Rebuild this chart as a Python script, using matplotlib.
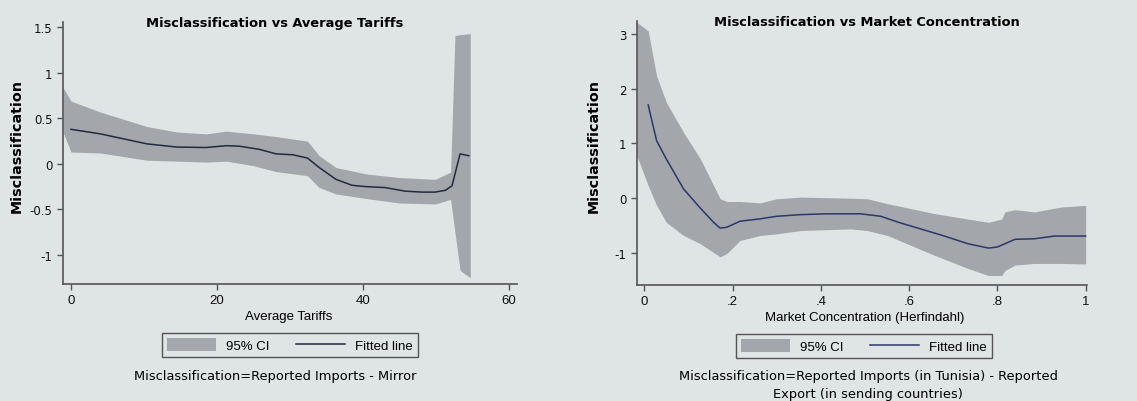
import matplotlib
matplotlib.use("Agg")
import matplotlib.pyplot as plt
from matplotlib.patches import Patch
from matplotlib.lines import Line2D

# left panel: misclassification vs average tariffs
tar_x = [0, 4, 10.4, 14.5, 18.5, 21.3, 23, 25.8, 28.1, 30.4, 32.4, 34, 36.3, 38.5,
         40.4, 43, 45.8, 48.1, 49.9, 51.3, 52.2, 53.3, 54.5]
tar_fit = [0.38, 0.33, 0.22, 0.185, 0.18, 0.2, 0.195, 0.16, 0.11, 0.10, 0.064, -0.04,
           -0.17, -0.235, -0.25, -0.26, -0.30, -0.31, -0.31, -0.29, -0.24, 0.11, 0.09]
tar_ci_x = [-1.1, 0, 4, 10.4, 14.5, 18.5, 21.3, 25, 28.1, 32.4, 34, 36.3, 40.4, 45,
            49.9, 52.0, 52.6, 53.3, 54.5, 54.7]
tar_hi = [0.84, 0.69, 0.57, 0.41, 0.35, 0.33, 0.36, 0.33, 0.30, 0.25, 0.09, -0.04,
          -0.11, -0.15, -0.17, -0.09, 1.41, 1.42, 1.43, 1.43]
tar_lo = [0.35, 0.13, 0.12, 0.04, 0.03, 0.02, 0.03, -0.02, -0.085, -0.13, -0.26, -0.33,
          -0.38, -0.43, -0.44, -0.39, -0.75, -1.17, -1.24, -1.25]

# right panel: misclassification vs market concentration
hhi_x = [0.009, 0.028, 0.05, 0.089, 0.127, 0.157, 0.172, 0.187, 0.217, 0.263, 0.30,
         0.354, 0.414, 0.49, 0.536, 0.58, 0.626, 0.68, 0.733, 0.78, 0.80, 0.84, 0.884,
         0.93, 1.0]
hhi_fit = [1.70, 1.05, 0.715, 0.17, -0.18, -0.44, -0.545, -0.53, -0.42, -0.376, -0.33,
           -0.30, -0.285, -0.285, -0.33, -0.45, -0.56, -0.69, -0.83, -0.91, -0.89,
           -0.75, -0.74, -0.69, -0.69]
hhi_ci_x = [-0.017, 0.009, 0.028, 0.05, 0.089, 0.127, 0.172, 0.187, 0.217, 0.263, 0.30,
            0.354, 0.468, 0.505, 0.551, 0.604, 0.657, 0.733, 0.78, 0.81, 0.817, 0.84,
            0.884, 0.945, 1.0]
hhi_hi = [3.21, 3.05, 2.23, 1.75, 1.2, 0.72, -0.01, -0.06, -0.06, -0.085, -0.01, 0.02,
          0.0, -0.01, -0.1, -0.19, -0.28, -0.38, -0.44, -0.38, -0.25, -0.21, -0.25,
          -0.16, -0.13]
hhi_lo = [0.78, 0.23, -0.13, -0.44, -0.68, -0.83, -1.07, -1.01, -0.77, -0.68, -0.65,
          -0.59, -0.56, -0.59, -0.68, -0.86, -1.04, -1.28, -1.41, -1.41, -1.32, -1.22,
          -1.19, -1.19, -1.2]

bg = "#dfe4e4"
band = "#a3a7ab"
axcol = "#555555"

fig = plt.figure(figsize=(11.37, 4.02), dpi=100, facecolor=bg)


def panel(rect, cx, hi, lo, x, fit, xlim, ylim, xticks, xlabels, yticks, ylabels,
          linecol):
    ax = fig.add_axes(rect)
    ax.set_facecolor(bg)
    ax.fill_between(cx, lo, hi, color=band, lw=0)
    ax.plot(x, fit, color=linecol, lw=1.1)
    ax.set_xlim(*xlim)
    ax.set_ylim(*ylim)
    for s in ["top", "right"]:
        ax.spines[s].set_visible(False)
    for s in ["left", "bottom"]:
        ax.spines[s].set_color(axcol)
        ax.spines[s].set_linewidth(1.2)
    ax.set_xticks(xticks)
    ax.set_xticklabels(xlabels, family="Liberation Sans", fontsize=9.5)
    ax.set_yticks(yticks)
    ax.set_yticklabels(ylabels, fontsize=8.5)
    ax.tick_params(colors=axcol, labelcolor="#111111", length=4, width=1)
    return ax


ax1 = panel([0.0554, 0.291, 0.3993, 0.652], tar_ci_x, tar_hi, tar_lo, tar_x, tar_fit,
            (-1.1, 61.1), (-1.32, 1.56), [0, 20, 40, 60], ["0", "20", "40", "60"],
            [1.5, 1, 0.5, 0, -0.5, -1], ["1.5", "1", "0.5", "0", "-0.5", "-1"],
            "#222a40")
ax2 = panel([0.560, 0.289, 0.396, 0.656], hhi_ci_x, hhi_hi, hhi_lo, hhi_x, hhi_fit,
            (-0.017, 1.003), (-1.58, 3.23), [0, 0.2, 0.4, 0.6, 0.8, 1],
            ["0", ".2", ".4", ".6", ".8", "1"],
            [3, 2, 1, 0, -1], ["3", "2", "1", "0", "-1"], "#2b3768")

W, H = 1137, 402


def fx(px):
    return px / W


def fy(py):
    return 1 - py / H


# titles and axis labels
fig.text(fx(275), fy(23), "Misclassification vs Average Tariffs", ha="center",
         va="center", fontsize=9.4, fontweight="bold")
fig.text(fx(867), fy(23), "Misclassification vs Market Concentration", ha="center",
         va="center", fontsize=9.4, fontweight="bold")
fig.text(fx(17), fy(146), "Misclassification", rotation=90, ha="center", va="center",
         fontsize=10.3, fontweight="bold")
fig.text(fx(594), fy(146), "Misclassification", rotation=90, ha="center",
         va="center", fontsize=10.3, fontweight="bold")
fig.text(fx(289), fy(317), "Average Tariffs", ha="center", va="center",
         family="Liberation Sans", fontsize=9.5)
fig.text(fx(865), fy(318), "Market Concentration (Herfindahl)", ha="center",
         va="center", family="Liberation Sans", fontsize=9.5)

# legends
for ax, cx, cy, lc in [(ax1, 290, 346, "#222a40"), (ax2, 864, 347, "#2b3768")]:
    handles = [Patch(facecolor=band, edgecolor="none"),
               Line2D([], [], color=lc, lw=1.1)]
    leg = fig.legend(handles, ["95% CI", "Fitted line"], loc="center",
                     bbox_to_anchor=(fx(cx), fy(cy)), ncol=2, frameon=True,
                     fancybox=False, edgecolor="#555555", facecolor=bg, framealpha=1,
                     prop={"family": "Liberation Sans", "size": 9.5},
                     handlelength=3.7, handleheight=1.1, columnspacing=2.0,
                     handletextpad=0.8, borderpad=0.35)
    leg.get_frame().set_linewidth(1.0)

# captions
fig.text(fx(275), fy(377), "Misclassification=Reported Imports - Mirror", ha="center",
         va="center", fontsize=9.4)
fig.text(fx(868), fy(377), "Misclassification=Reported Imports (in Tunisia) - Reported",
         ha="center", va="center", fontsize=9.4)
fig.text(fx(868), fy(395), "Export (in sending countries)",
         ha="center", va="center", fontsize=9.4)

fig.savefig("out.png", dpi=100, facecolor=bg)
